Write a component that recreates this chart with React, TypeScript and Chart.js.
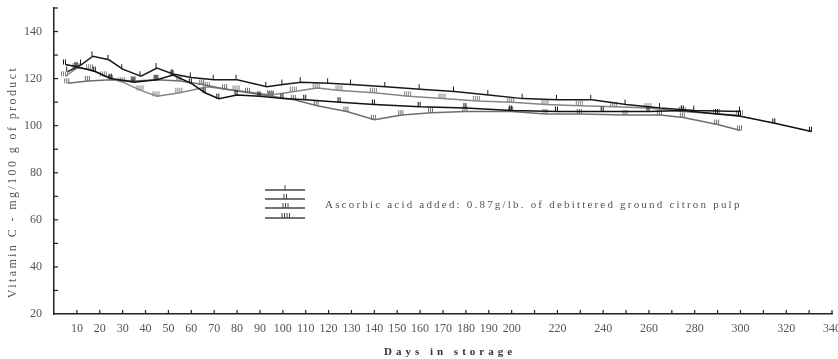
import React, { useEffect, useRef } from 'react';
import { Chart, registerables } from 'chart.js';

Chart.register(...registerables);

// ---- data (days in storage, vitamin C mg/100 g) ----
const s1Days = [6, 12, 17, 24, 30, 38, 45, 52, 60, 70, 80, 93, 100, 108, 120, 130, 145, 160, 175, 190, 205, 220, 235, 250, 265, 280, 300];
const s1Vals = [123, 126, 129.5, 128, 124, 121, 124.5, 122, 120.5, 119.5, 119.5, 116.5, 117.5, 118.5, 118, 117.5, 116.5, 115.5, 114.5, 113, 111.5, 111, 111, 109, 107.5, 106.5, 106];

const s2Days = [5, 10, 18, 25, 35, 45, 52, 60, 66, 72, 80, 90, 100, 110, 125, 140, 160, 180, 200, 220, 240, 260, 275, 290, 300, 315, 331];
const s2Vals = [126, 125, 123, 120, 118.5, 119.5, 121.5, 118, 114, 111.5, 113, 112.5, 111.5, 111, 110, 109, 108, 107.5, 106.5, 106, 106, 106, 106.5, 105, 104, 101, 97.5];

const s3Days = [6, 15, 25, 35, 45, 55, 65, 75, 85, 95, 105, 115, 128, 140, 152, 165, 180, 200, 215, 230, 250, 265, 275, 290, 300];
const s3Vals = [118, 119, 119.5, 119, 119.5, 119, 117.5, 115.5, 114, 112.5, 111, 108.5, 106, 102.5, 104.5, 105.5, 106, 106, 105, 105, 104.5, 104.5, 103.5, 100.5, 98];

const s4Days = [5, 10, 16, 22, 30, 38, 45, 55, 67, 80, 95, 105, 115, 125, 140, 155, 170, 185, 200, 215, 230, 245, 260, 275, 290, 300];
const s4Vals = [121, 124.5, 124, 121, 118.5, 115, 112.5, 114, 116.5, 115, 113, 114.5, 116, 115, 114, 112.5, 111.5, 110.5, 110, 109, 108.5, 108, 107.5, 106, 105, 104.5];

const seriesTicks = [1, 2, 3, 4];
const seriesColors = ['#1a1a1a', '#111111', '#6e6e6e', '#858585'];

const xTitle = 'Days in storage';
const yTitle = 'Vitamin C - mg/100 g of product';
const legendText = 'Ascorbic acid added: 0.87g/lb. of debittered ground citron pulp';

function tickImage(n: number, color: string): HTMLCanvasElement {
  const c = document.createElement('canvas');
  const w = n * 2 + 3;
  c.width = w;
  c.height = 12;
  const g = c.getContext('2d')!;
  g.fillStyle = color;
  for (let i = 0; i < n; i++) {
    g.fillRect(1 + i * 2, 1, 1, 5);
  }
  return c;
}

const overlayPlugin = {
  id: 'overlay',
  afterDraw(chart: any) {
    const ctx: CanvasRenderingContext2D = chart.ctx;
    const area = chart.chartArea;
    const xs = chart.scales.x;
    const ys = chart.scales.y;

    // inward axis ticks
    ctx.save();
    ctx.strokeStyle = '#222';
    ctx.lineWidth = 1.2;
    xs.ticks.forEach((t: any) => {
      if (t.value === 0) return;
      const px = xs.getPixelForValue(t.value);
      ctx.beginPath();
      ctx.moveTo(px, area.bottom);
      ctx.lineTo(px, area.bottom - 4);
      ctx.stroke();
    });
    ys.ticks.forEach((t: any) => {
      if (t.value === 20) return;
      const py = ys.getPixelForValue(t.value);
      ctx.beginPath();
      ctx.moveTo(area.left, py);
      ctx.lineTo(area.left + 4, py);
      ctx.stroke();
    });
    ctx.restore();

    // y title
    ctx.save();
    ctx.translate(13, 182);
    ctx.rotate(-Math.PI / 2);
    ctx.font = '12px "Liberation Serif"';
    (ctx as any).letterSpacing = '2.4px';
    ctx.fillStyle = '#555';
    ctx.textAlign = 'center';
    ctx.textBaseline = 'middle';
    ctx.fillText(yTitle, 0, 0);
    ctx.restore();

    // x title
    ctx.save();
    ctx.font = 'bold 11px "Liberation Serif"';
    (ctx as any).letterSpacing = '4px';
    ctx.fillStyle = '#333';
    ctx.textAlign = 'center';
    ctx.textBaseline = 'middle';
    ctx.fillText(xTitle, 450, 352);
    ctx.restore();

    // legend samples
    ctx.save();
    const rows = [190, 199, 208, 218];
    rows.forEach((y, i) => {
      const n = seriesTicks[i];
      ctx.strokeStyle = '#444';
      ctx.lineWidth = 1.5;
      ctx.beginPath();
      ctx.moveTo(265, y);
      ctx.lineTo(305, y);
      ctx.stroke();
      ctx.lineWidth = 1;
      for (let k = 0; k < n; k++) {
        const tx = 285 - (n - 1) + k * 2.5;
        ctx.beginPath();
        ctx.moveTo(tx, y);
        ctx.lineTo(tx, y - 5);
        ctx.stroke();
      }
    });
    ctx.font = '11px "Liberation Serif"';
    (ctx as any).letterSpacing = '2.2px';
    ctx.fillStyle = '#555';
    ctx.textAlign = 'left';
    ctx.textBaseline = 'middle';
    ctx.fillText(legendText, 325, 205);
    ctx.restore();
  },
};

export default function App() {
  const ref = useRef<HTMLCanvasElement>(null);

  useEffect(() => {
    const all = [
      [s1Days, s1Vals],
      [s2Days, s2Vals],
      [s3Days, s3Vals],
      [s4Days, s4Vals],
    ];
    const datasets = all.map(([d, v], i) => ({
      label: `Series ${i + 1}`,
      data: d.map((x, j) => ({ x, y: v[j] })),
      borderColor: seriesColors[i],
      borderWidth: 1.5,
      pointStyle: tickImage(seriesTicks[i], seriesColors[i]),
      pointRadius: 3,
      tension: 0,
      fill: false,
    }));

    const chart = new Chart(ref.current!, {
      type: 'line',
      data: { datasets },
      plugins: [overlayPlugin],
      options: {
        animation: false,
        responsive: false,
        layout: { padding: { top: 8, right: 6, left: 0, bottom: 0 } },
        plugins: { legend: { display: false }, tooltip: { enabled: false } },
        scales: {
          x: {
            type: 'linear',
            min: 0,
            max: 340,
            border: { display: true, color: '#222', width: 1.5 },
            grid: { display: false },
            ticks: {
              stepSize: 10,
              autoSkip: false,
              maxRotation: 0,
              padding: 0,
              color: '#555',
              font: { family: '"Liberation Serif"', size: 12 },
              callback: (v: any) => {
                const n = Number(v);
                if (n === 0) return '';
                if (n > 200 && n % 20 !== 0) return '';
                return String(n);
              },
            },
            afterFit: (s: any) => {
              s.height = 45;
              s.paddingLeft = 0;
              s.paddingRight = 0;
            },
          },
          y: {
            min: 20,
            max: 150,
            border: { display: true, color: '#222', width: 1.5 },
            grid: { display: false },
            ticks: {
              stepSize: 10,
              padding: 4,
              color: '#555',
              font: { family: '"Liberation Serif"', size: 12 },
              callback: (v: any) => (Number(v) % 20 === 0 ? String(v) : ''),
            },
            afterFit: (s: any) => {
              s.width = 54;
              s.paddingTop = 0;
              s.paddingBottom = 0;
            },
          },
        },
      },
    });
    return () => chart.destroy();
  }, []);

  return (
    <div style={{ position: 'fixed', left: 0, top: 0, width: 838, height: 359, background: '#fff' }}>
      <canvas ref={ref} width={838} height={359} />
    </div>
  );
}
